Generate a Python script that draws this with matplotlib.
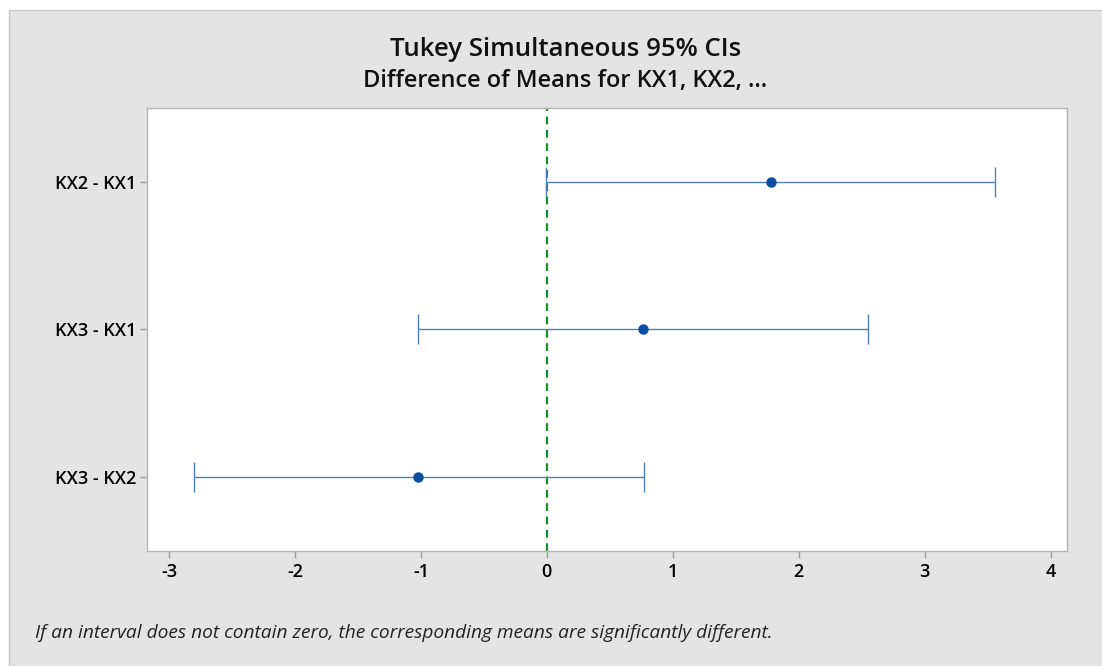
import matplotlib
matplotlib.use("Agg")
import matplotlib.pyplot as plt
from matplotlib.patches import Rectangle

## Data
labels = ['KX2 - KX1', 'KX3 - KX1', 'KX3 - KX2']
centers = [1.78, 0.76, -1.02]
lower = [-0.01, -1.02, -2.80]
upper = [3.56, 2.55, 0.77]
xticks = [-3, -2, -1, 0, 1, 2, 3, 4]

panel_grey = '#e4e4e4'
line_blue = '#4f80c0'
dot_blue = '#0b4ea2'
zero_green = '#17902a'

plt.rcParams['font.family'] = ['Open Sans', 'DejaVu Sans']

fig = plt.figure(figsize=(11.02, 6.66), dpi=100)
fig.patch.set_facecolor('white')
# grey panel with a thin border, leaving a white strip top/left
fig.patches.append(Rectangle((9/1102, 0), 1 - 9/1102 + 0.01, 1 - 10/666,
                             transform=fig.transFigure, facecolor=panel_grey,
                             edgecolor='#c8c8c8', linewidth=1.0, zorder=-1))

ax = fig.add_axes([147/1102, 1 - 551/666, (1067 - 147)/1102, (551 - 108)/666])
ax.set_facecolor('white')

ypos = [3, 2, 1]
xerr = [[c - lo for c, lo in zip(centers, lower)],
        [hi - c for c, hi in zip(centers, upper)]]
ax.axvline(0, color=zero_green, linestyle=(0, (3.5, 2.5)), linewidth=1.6, zorder=1)
ax.errorbar(centers, ypos, xerr=xerr, fmt='none', ecolor=line_blue,
            elinewidth=1.0, capsize=11, capthick=1.0, zorder=2)
ax.plot(centers, ypos, 'o', color=dot_blue, markersize=6.5, zorder=3)

ax.set_xlim(-3.175, 4.13)
ax.set_ylim(0.5, 3.5)
ax.set_xticks(xticks)
ax.set_xticklabels([str(t) for t in xticks])
ax.set_yticks(ypos)
ax.set_yticklabels(labels)
ax.tick_params(axis='both', colors='#a0a0a0', labelcolor='black',
               labelsize=13, length=5, width=1)
ax.tick_params(axis='y', pad=3)
for s in ax.spines.values():
    s.set_color('#b4b4b4')
    s.set_linewidth(1.0)
for t in ax.get_xticklabels() + ax.get_yticklabels():
    t.set_fontweight('semibold')

fig.text(0.513, 1 - 50/666, 'Tukey Simultaneous 95% CIs', ha='center', va='center',
         fontsize=18.5, fontweight='semibold', color='#111111')
fig.text(0.513, 1 - 81/666, 'Difference of Means for KX1, KX2, ...', ha='center',
         va='center', fontsize=17, fontweight='semibold', color='#111111')
fig.text(35/1102, 1 - 633/666,
         'If an interval does not contain zero, the corresponding means are significantly different.',
         ha='left', va='center', fontsize=13.8, style='italic', color='#222222')

plt.savefig('out.png', dpi=100, facecolor=fig.get_facecolor())
